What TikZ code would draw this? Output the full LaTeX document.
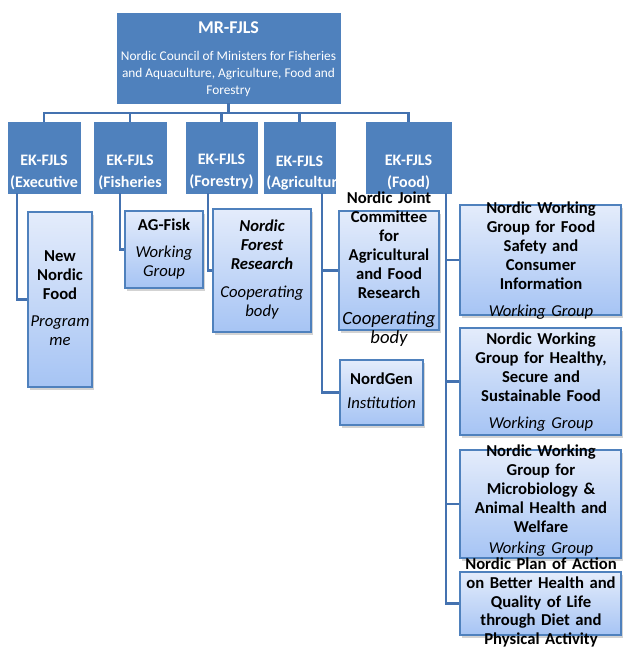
\documentclass[tikz,border=0pt]{standalone}
\usepackage{fontspec}
\setmainfont{Carlito}
\usetikzlibrary{shadows}
\definecolor{mrblue}{RGB}{79,129,189}
\definecolor{linkblue}{RGB}{68,114,176}
\definecolor{subtop}{RGB}{228,236,251}
\definecolor{subbot}{RGB}{166,196,244}
\begin{document}
\begin{tikzpicture}[x=0.75pt,y=0.75pt,yscale=-1,xscale=1,
	unit/.style={draw=mrblue, fill=mrblue, inner sep=0pt, minimum height=53.25pt},
	unittxt/.style={text=white, align=center, inner sep=0pt, font=\fontsize{12}{16.5}\selectfont\bfseries},
	sub/.style={draw=mrblue, line width=0.8pt, top color=subtop, bottom color=subbot, inner sep=0pt,
		drop shadow={shadow xshift=1.5pt, shadow yshift=-2pt, opacity=0.35}},
	subtxt/.style={align=center, inner sep=0pt, text width=125pt, font=\fontsize{12.5}{14.25}\selectfont\bfseries},
	link/.style={draw=linkblue, line width=1.6pt}]
	\useasboundingbox (0,0) rectangle (622,648);
	
	%Council
	\node [unit, minimum width=167.25pt, minimum height=67.5pt] (mr) at (228.5,58) {};
	\node [text=white, inner sep=0pt, font=\fontsize{13.5}{16}\selectfont\bfseries] (mrT) at (228.5,28) {MR-FJLS};
	\node [text=white, align=center, inner sep=0pt, font=\fontsize{10}{12.75}\selectfont] (mrD) at (228.5,74) {Nordic Council of Ministers for Fisheries\\and Aquaculture, Agriculture, Food and\\Forestry};
	
	%Executive committees
	\node [unit, minimum width=54pt] (exec) at (44,157.5) {};
	\node [unittxt] (execT) at (44,172) {EK-FJLS\\(Executive};
	\node [unit, minimum width=54pt] (fish) at (130,157.5) {};
	\node [unittxt] (fishT) at (130,172) {EK-FJLS\\(Fisheries};
	\node [unit, minimum width=53.25pt] (forest) at (221.5,157.5) {};
	\node [unittxt] (forestT) at (221.5,172) {EK-FJLS\\(Forestry)};
	\node [unit, minimum width=53.25pt] (agri) at (299.5,157.5) {};
	\node [unittxt] (agriT) at (299.5,161) {EK-FJLS};
	\begin{scope}
		\clip (agri.south west) rectangle (agri.north east);
		\node [unittxt, anchor=west] (agriS) at (266,183) {(Agriculture)};
	\end{scope}
	\node [unit, minimum width=63.75pt] (food) at (408.5,157.5) {};
	\node [unittxt] (foodT) at (408.5,172) {EK-FJLS\\(Food)};
	
	%Bodies
	\node [sub, minimum width=48pt, minimum height=131.25pt] (nnf) at (60,299.5) {};
	\node [subtxt] (nnfT) at (60,298) {New\\Nordic\\Food\\[6pt]\mdseries\itshape Program\\me};
	\node [sub, minimum width=58.5pt, minimum height=57.75pt] (ag) at (164,249.5) {};
	\node [subtxt] (agT) at (164,249) {AG-Fisk\\[6pt]\mdseries\itshape Working\\Group};
	\node [sub, minimum width=73.5pt, minimum height=92.25pt] (nfr) at (262,270.5) {};
	\node [subtxt] (nfrT) at (262,269.5) {\itshape Nordic\\Forest\\Research\\[6.5pt]\mdseries Cooperating\\body};
	\node [sub, minimum width=75pt, minimum height=89.25pt] (jc) at (389,270.5) {};
	\node [subtxt] (jcT) at (389,269) {Nordic Joint\\Committee\\for\\Agricultural\\and Food\\Research\\[3pt]\fontsize{14}{16}\selectfont\mdseries\itshape Cooperating\\body};
	\node [sub, minimum width=62.25pt, minimum height=48.75pt] (ngen) at (381.5,392.5) {};
	\node [subtxt] (ngenT) at (381.5,390.5) {NordGen\\[4pt]\mdseries\itshape Institution};
	
	%Food working groups
	\node [sub, minimum width=120.75pt, minimum height=82.5pt] (wg1) at (540.5,260) {};
	\node [subtxt] (wg1T) at (541,260.5) {Nordic Working\\Group for Food\\Safety and\\Consumer\\Information\\[6pt]\mdseries\itshape Working Group};
	\node [sub, minimum width=120.75pt, minimum height=80.25pt] (wg2) at (540.5,381.5) {};
	\node [subtxt] (wg2T) at (541,382) {Nordic Working\\Group for Healthy,\\Secure and\\Sustainable Food\\[6pt]\mdseries\itshape Working Group};
	\node [sub, minimum width=120.75pt, minimum height=81pt] (wg3) at (540.5,504) {};
	\node [subtxt] (wg3T) at (541,500.5) {Nordic Working\\Group for\\Microbiology \&\\Animal Health and\\Welfare\\[1.5pt]\mdseries\itshape Working Group};
	\node [sub, minimum width=120.75pt, minimum height=47.25pt] (wg4) at (540.5,603.5) {};
	\node [subtxt, font=\fontsize{12.5}{13.9}\selectfont\bfseries] (wg4T) at (541,602.5) {Nordic Plan of Action\\on Better Health and\\Quality of Life\\through Diet and\\Physical Activity};
	
	%Connectors
	\foreach \n in {exec,fish,forest,agri,food}
		\draw [link] (\n.north) -- ++(0,-9) -| (mr.south);
	\draw [link] ([shift={(9,0)}]exec.south west) |- (nnf.west);
	\draw [link] ([shift={(26,0)}]fish.south west) |- (ag.west);
	\draw [link] ([shift={(22,0)}]forest.south west) |- (nfr.west);
	\coordinate (agribus) at ([shift={(58,0)}]agri.south west);
	\draw [link] (agribus) |- (ngen.west);
	\draw [link] (jc.west) -- (jc.west -| agribus);
	\coordinate (foodbus) at ([shift={(80,0)}]food.south west);
	\draw [link] (foodbus) |- (wg4.west);
	\foreach \w in {wg1,wg2,wg3}
		\draw [link] (\w.west) -- (\w.west -| foodbus);
	
\end{tikzpicture}
\end{document}
